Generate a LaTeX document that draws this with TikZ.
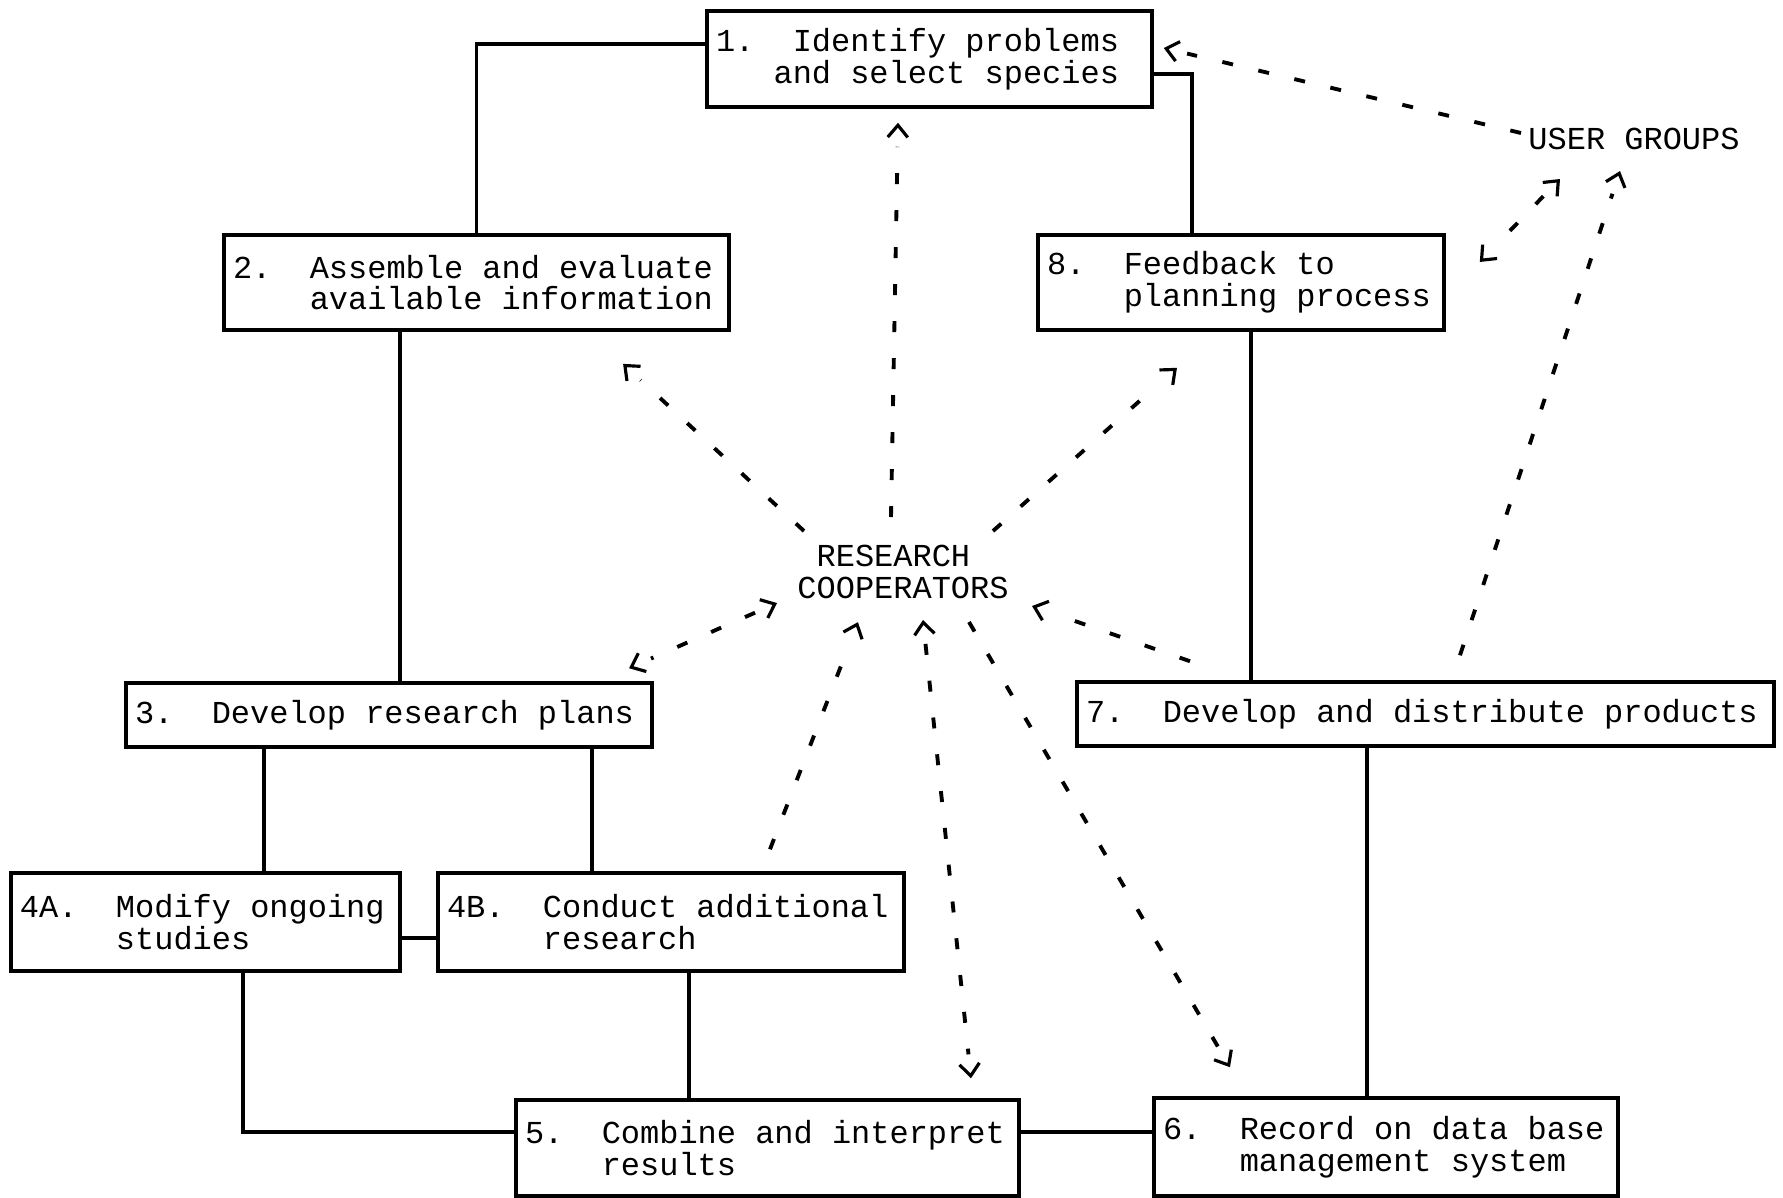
\documentclass[tikz,border=0pt]{standalone}
\usepackage{fontspec}
\setmonofont{Liberation Mono}
\usetikzlibrary{arrows.meta,calc,decorations.markings}

\newcommand{\indt}[1]{\hspace*{\dimexpr #1em*6/10\relax}}

\tikzset{
    box/.style={draw, line width=1pt, align=left, inner xsep=0.9mm, inner ysep=0pt, text width=#1},
    link/.style={line width=1pt},
    barb/.tip={Straight Barb[length=1.2mm,width=2mm]},
    dashes/.style={line width=1.1pt, dash pattern=on 1.1mm off 2.6mm},
    coop/.style={dashes, shorten >=2.4mm,
        postaction={decorate, decoration={markings,
            mark=at position 1 with {\arrow[line width=0.9pt,solid]{barb}}}}},
    coop2/.style={dashes, shorten >=2.4mm, shorten <=2.4mm,
        postaction={decorate, decoration={markings,
            mark=at position 0 with {\arrowreversed[line width=0.9pt,solid]{barb}},
            mark=at position 1 with {\arrow[line width=0.9pt,solid]{barb}}}}}
}

\begin{document}
\begin{tikzpicture}[font=\ttfamily\fontsize{9.1}{9}\selectfont,
        every node/.append style={execute at begin node={\spaceskip=0.6em\relax}}]
        \useasboundingbox (0,0) rectangle (17.83,-11.97);

        \node[box=4.27cm, minimum height=0.96cm] (b1) at (9.295,-0.59) {1.\indt{2}Identify problems\\\indt{3}and select species};
        \node[box=4.87cm, minimum height=0.95cm] (b2) at (4.765,-2.825) {2.\indt{2}Assemble and evaluate\\\indt{4}available information};
        \node[box=3.88cm, minimum height=0.95cm] (b8) at (12.41,-2.825) {8.\indt{2}Feedback to\\\indt{4}planning process};
        \node[box=5.08cm, minimum height=0.64cm] (b3) at (3.89,-7.15) {3.\indt{2}Develop research plans};
        \node[box=6.79cm, minimum height=0.64cm] (b7) at (14.255,-7.14) {7.\indt{2}Develop and distribute products};
        \node[box=3.71cm, minimum height=0.98cm] (b4a) at (2.055,-9.22) {4A.\indt{2}Modify ongoing\\\indt{5}studies};
        \node[box=4.48cm, minimum height=0.98cm] (b4b) at (6.71,-9.22) {4B.\indt{2}Conduct additional\\\indt{5}research};
        \node[box=4.85cm, minimum height=0.96cm] (b5) at (7.675,-11.48) {5.\indt{2}Combine and interpret\\\indt{4}results};
        \node[box=4.46cm, minimum height=0.98cm] (b6) at (13.86,-11.47) {6.\indt{2}Record on data base\\\indt{4}management system};

        \node[align=left, inner sep=0pt] (rc) at (9.03,-5.72) {\indt{1}RESEARCH\\COOPERATORS};
        \node[inner sep=0pt] (ug) at (16.34,-1.39) {USER GROUPS};

        % solid links
        \draw[link] ([yshift=1.5mm]b1.west) -| (b2.north);
        \draw[link] ([yshift=-1.5mm]b1.east) -| ([xshift=-4.9mm]b8.north);
        \draw[link] ([xshift=1.1mm]b3.north) -- ([xshift=1.1mm]b3.north |- b2.south);
        \draw[link] ([xshift=-12.5mm]b3.south) -- ([xshift=-12.5mm]b3.south |- b4a.north);
        \draw[link] ([xshift=20.3mm]b3.south) -- ([xshift=20.3mm]b3.south |- b4b.north);
        \draw[link] ([yshift=-1.6mm]b4a.east) -- ([yshift=-1.6mm]b4b.west);
        \draw[link] ([xshift=3.75mm]b4a.south) |- ([yshift=1.6mm]b5.west);
        \draw[link] ([xshift=1.8mm]b4b.south) -- ([xshift=1.8mm]b4b.south |- b5.north);
        \draw[link] ([yshift=1.6mm]b5.east) -- ([yshift=1.6mm]b5.east -| b6.west);
        \draw[link] ([xshift=-1.9mm]b6.north) -- ([xshift=-1.9mm]b6.north |- b7.south);
        \draw[link] ([xshift=1mm]b8.south) -- ([xshift=1mm]b8.south |- b7.north);

        % research cooperators
        \draw[coop] ($(rc)+(-0.12,0.55)$) -- ($(b1.south)+(-0.315,-0.14)$);
        \draw[coop] ($(rc)+(-0.99,0.41)$) -- ($(b2.south)+(1.465,-0.32)$);
        \draw[coop] ($(rc)+(0.90,0.41)$) -- ($(b8.south)+(-0.64,-0.36)$);
        \draw[coop2] ($(rc)+(-1.26,-0.31)$) -- ($(b3.north)+(2.40,0.13)$);
        \draw[coop] ($(b4b.north)+(0.99,0.22)$) -- ($(rc)+(-0.45,-0.50)$);
        \draw[coop2] ($(rc)+(0.20,-0.48)$) -- ($(b5.north)+(2.035,0.20)$);
        \draw[coop] ($(rc)+(0.66,-0.50)$) -- ($(b6.north)+(-1.56,0.29)$);
        \draw[coop] ($(b7.north)+(-2.355,0.19)$) -- ($(rc)+(1.29,-0.34)$);

        % user groups
        \draw[coop] ($(ug)+(-1.13,0.06)$) -- ($(b1.east)+(0.10,0.11)$);
        \draw[coop2] ($(ug)+(-0.74,-0.40)$) -- ($(b8.east)+(0.34,0.205)$);
        \draw[coop] ($(b7.north)+(0.345,0.25)$) -- ($(ug)+(-0.14,-0.32)$);
\end{tikzpicture}
\end{document}
